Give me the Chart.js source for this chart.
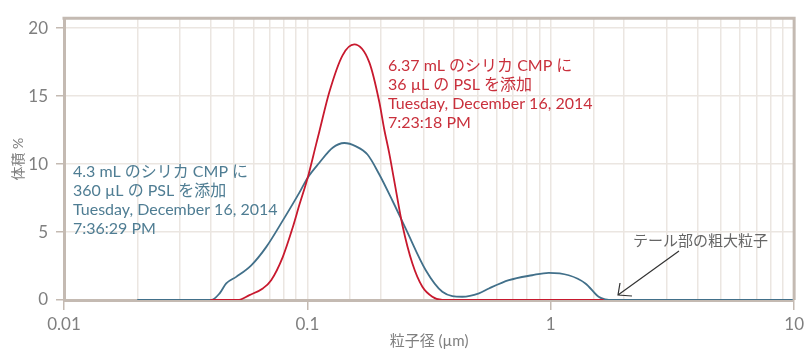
<!DOCTYPE html>
<html>
<head>
<meta charset="utf-8">
<script src="https://cdn.jsdelivr.net/npm/chart.js@4"></script>
<style>
  html, body { margin: 0; padding: 0; background: #fff; }
  canvas { display: block; }
</style>
</head>
<body>
<canvas id="psdChart" width="808" height="349"></canvas>
<script>
// particle size (um) and volume %
const sizeBlue = [0.02, 0.0403, 0.0436, 0.0464, 0.051, 0.0588, 0.0677, 0.0792, 0.0927, 0.1003, 0.112, 0.127, 0.1418, 0.1584, 0.1766, 0.1973, 0.2237, 0.2538, 0.3065, 0.3585, 0.433, 0.5069, 0.5571, 0.6729, 0.8384, 0.981, 1.185, 1.388, 1.573, 1.676, 1.8, 10];
const volBlue  = [0, 0, 0.49, 1.22, 1.70, 2.55, 3.89, 5.84, 7.9, 9.0, 10.1, 11.2, 11.55, 11.3, 10.7, 9.25, 7.3, 5.23, 2.19, 0.61, 0.24, 0.49, 0.85, 1.46, 1.82, 2.0, 1.82, 1.22, 0.24, 0.05, 0, 0];

const sizeRed = [0.04, 0.0518, 0.0578, 0.0656, 0.071, 0.0792, 0.0871, 0.0927, 0.1003, 0.1086, 0.112, 0.1231, 0.1395, 0.1558, 0.1795, 0.1973, 0.2067, 0.2169, 0.2273, 0.2458, 0.2701, 0.2968, 0.3262, 0.3585, 1.65];
const volRed  = [0, 0, 0.36, 0.85, 1.46, 3.16, 5.35, 7.0, 9.0, 11.45, 12.4, 15.3, 18.0, 18.8, 17.5, 14.6, 12.6, 10.8, 8.8, 5.5, 2.68, 0.97, 0.24, 0, 0];

const xTickLabels = [0.01, 0.1, 1, 10];
const yTickValues = [0, 5, 10, 15, 20];

const blueNote = ['4.3 mL のシリカ CMP に', '360 µL の PSL を添加', 'Tuesday, December 16, 2014', '7:36:29 PM'];
const redNote = ['6.37 mL のシリカ CMP に', '36 µL の PSL を添加', 'Tuesday, December 16, 2014', '7:23:18 PM'];
const tailNote = 'テール部の粗大粒子';

const FONT = "Lato, 'Noto Sans CJK JP', sans-serif";
const frameColor = '#c4bab2';
const gridColor = '#ebe6e1';
const tickText = '#7f7f7f';
const blueLine = '#42708a';
const redLine = '#c8192e';

const toPoints = (xs, ys) => xs.map((x, i) => ({ x: x, y: ys[i] }));

// frame on top/right + text notes and arrow
const notesPlugin = {
  id: 'notes',
  afterDatasetsDraw(chart) {
    const ctx = chart.ctx;
    const a = chart.chartArea;
    ctx.save();
    ctx.strokeStyle = frameColor;
    ctx.lineWidth = 3;
    ctx.beginPath();
    ctx.moveTo(a.left - 1.5, a.top);
    ctx.lineTo(a.right, a.top);
    ctx.lineTo(a.right, a.bottom);
    ctx.stroke();

    ctx.font = '16px ' + FONT;
    ctx.textBaseline = 'middle';
    ctx.textAlign = 'left';
    ctx.fillStyle = '#4f7d93';
    blueNote.forEach((t, i) => ctx.fillText(t, 73, 172 + i * 18.8));
    ctx.fillStyle = '#c9303c';
    redNote.forEach((t, i) => ctx.fillText(t, 388, 66 + i * 18.8));

    ctx.font = '15px ' + FONT;
    ctx.fillStyle = '#666';
    ctx.fillText(tailNote, 633, 241);

    // arrow to the tail
    ctx.strokeStyle = '#333';
    ctx.lineWidth = 1.2;
    ctx.beginPath();
    ctx.moveTo(679, 251);
    ctx.lineTo(618, 295);
    ctx.moveTo(620, 283);
    ctx.lineTo(618, 295);
    ctx.lineTo(632, 296);
    ctx.stroke();
    ctx.restore();
  }
};

new Chart(document.getElementById('psdChart'), {
  type: 'line',
  data: {
    datasets: [
      {
        label: '6.37 mL',
        data: toPoints(sizeRed, volRed),
        borderColor: redLine,
        borderWidth: 1.8,
        pointRadius: 0,
        cubicInterpolationMode: 'monotone',
        fill: false
      },
      {
        label: '4.3 mL',
        data: toPoints(sizeBlue, volBlue),
        borderColor: blueLine,
        borderWidth: 1.8,
        pointRadius: 0,
        cubicInterpolationMode: 'monotone',
        fill: false
      }
    ]
  },
  options: {
    responsive: false,
    animation: false,
    devicePixelRatio: 1,
    layout: { padding: { top: 16, right: 12, left: 0, bottom: 0 } },
    plugins: {
      legend: { display: false },
      tooltip: { enabled: false }
    },
    scales: {
      x: {
        type: 'logarithmic',
        min: 0.01,
        max: 10,
        afterFit: s => { s.height = 49; },
        border: { color: frameColor, width: 3 },
        grid: {
          color: gridColor,
          lineWidth: 1.5,
          tickLength: 10,
          tickWidth: 1.5,
          tickColor: c => (c.tick && xTickLabels.some(t => Math.abs(c.tick.value / t - 1) < 1e-6)) ? frameColor : 'rgba(0,0,0,0)'
        },
        ticks: {
          autoSkip: false,
          maxRotation: 0,
          padding: 4,
          color: tickText,
          font: { family: FONT, size: 17 },
          callback: v => {
            const hit = xTickLabels.find(t => Math.abs(v / t - 1) < 1e-6);
            return hit === undefined ? '' : String(hit);
          }
        },
        title: {
          display: true,
          text: '粒子径 (µm)',
          color: tickText,
          padding: 0,
          font: { family: FONT, size: 15, lineHeight: 1 }
        }
      },
      y: {
        min: 0,
        max: 20.73,
        afterFit: s => { s.width = 64; },
        afterBuildTicks: s => { s.ticks = yTickValues.map(v => ({ value: v })); },
        border: { color: frameColor, width: 3 },
        grid: {
          color: gridColor,
          lineWidth: 1.5,
          tickLength: 8,
          tickColor: frameColor
        },
        ticks: {
          padding: 8,
          color: tickText,
          font: { family: FONT, size: 17 }
        },
        title: {
          display: true,
          text: '体積 %',
          color: tickText,
          padding: { top: 10, bottom: 0 },
          font: { family: FONT, size: 14 }
        }
      }
    }
  },
  plugins: [notesPlugin]
});
</script>
</body>
</html>
